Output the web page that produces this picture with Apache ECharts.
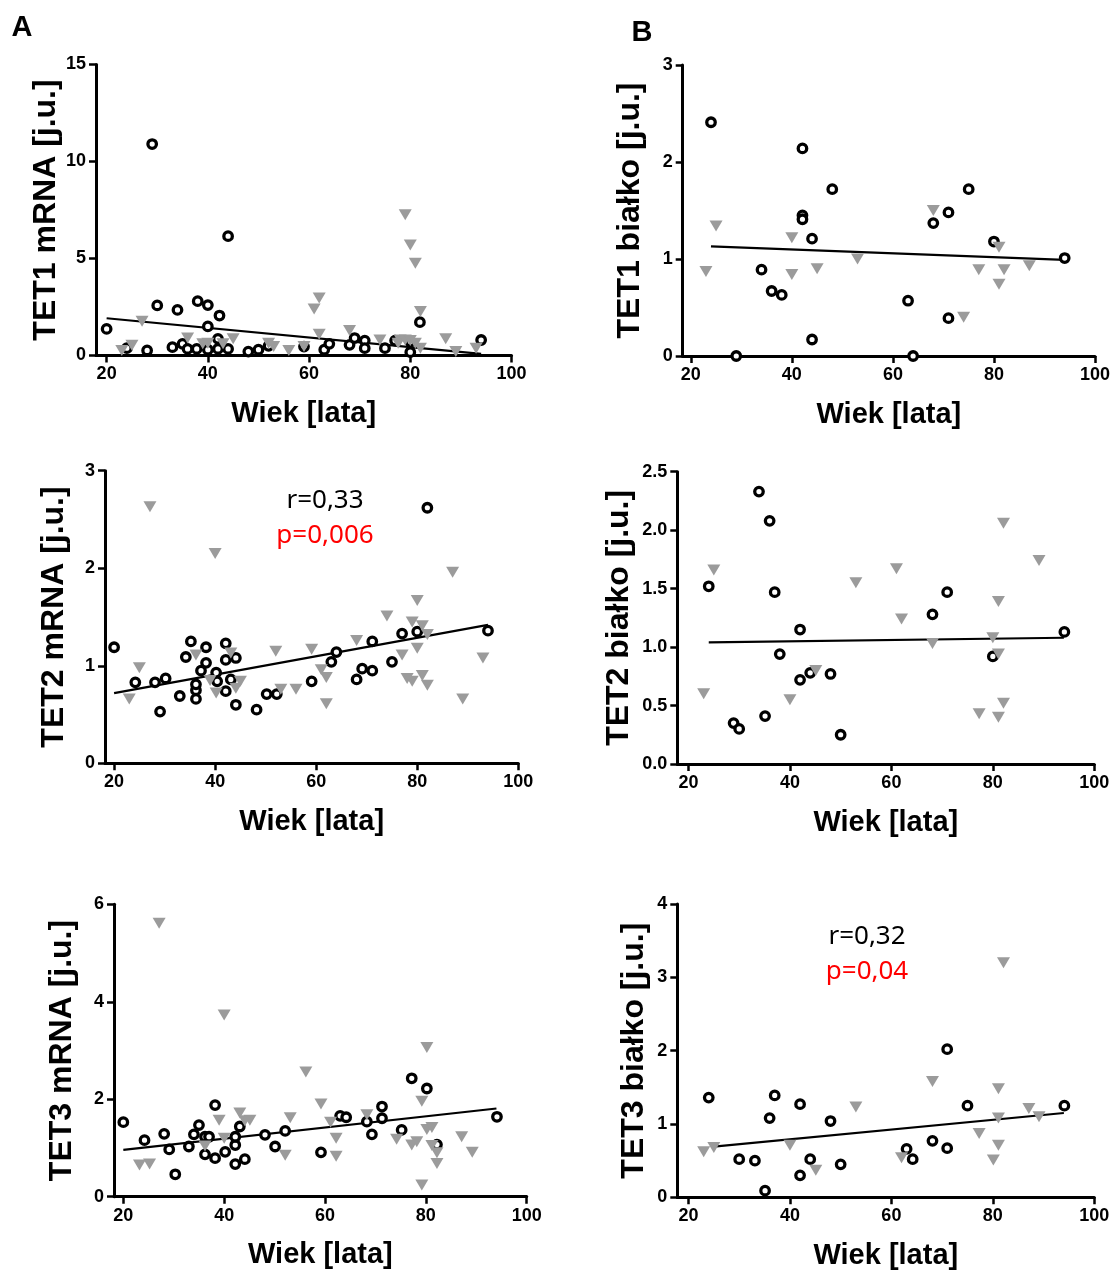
<!DOCTYPE html>
<html>
<head>
<meta charset="utf-8">
<script src="https://cdn.jsdelivr.net/npm/echarts@6/dist/echarts.min.js"></script>
<style>html,body{margin:0;padding:0;background:#fff}#c{width:1114px;height:1276px}</style>
</head>
<body>
<div id="c"></div>
<script>
// ---------- DATA (age [years], value [j.u.]) ----------
const xTicks = [20, 40, 60, 80, 100];
const xTitle = 'Wiek [lata]';

// TET1 mRNA
const tet1MrnaCircles = [[20,1.37],[29,10.9],[30,2.58],[34,2.35],[38,2.8],[40,2.6],[42.3,2.06],[40,1.5],[44,6.15],[81.9,1.72],[94,0.8],[28,0.26],[24,0.38],[33,0.43],[35,0.6],[36,0.34],[37.8,0.34],[40,0.3],[42,0.86],[42,0.34],[44,0.34],[48,0.2],[50,0.3],[52,0.5],[59,0.46],[63,0.3],[64,0.6],[68,0.55],[69,0.9],[71,0.77],[71,0.38],[75,0.38],[77,0.77],[80,0.17],[80,0.72]];
const tet1MrnaTriangles = [[79,7.25],[80,5.7],[81,4.76],[62,2.97],[61,2.4],[82,2.27],[27,1.77],[62,1.1],[68,1.29],[87,0.86],[36,0.9],[25,0.53],[23,0.26],[39,0.6],[40,0.63],[43,0.6],[45,0.86],[52,0.63],[53,0.46],[56,0.26],[59,0.46],[74,0.8],[77.6,0.63],[78,0.8],[79,0.8],[80,0.77],[81,0.63],[82,0.38],[89,0.2],[93,0.38]];
const tet1MrnaFit = [[20,1.92],[94,0.08]];

// TET1 protein
const tet1ProtCircles = [[24,2.41],[42.1,2.14],[48,1.72],[42.1,1.45],[42.1,1.41],[44,1.21],[34,0.89],[36,0.67],[38,0.63],[44,0.17],[29,0.0],[63,0.57],[64,0.0],[71,0.39],[68,1.37],[71,1.48],[75,1.72],[80,1.18],[94,1.01]];
const tet1ProtTriangles = [[25,1.34],[23,0.87],[40,1.22],[40,0.84],[45,0.9],[53,1.0],[68,1.5],[74,0.4],[77,0.89],[81,1.12],[82,0.89],[81,0.74],[87,0.93]];
const tet1ProtFit = [[24,1.13],[94,0.99]];

// TET2 mRNA
const tet2MrnaCircles = [[20,1.19],[24.2,0.83],[28.1,0.83],[30.2,0.87],[29.1,0.53],[33,0.69],[34.2,1.09],[35.2,1.25],[36.2,0.66],[36.2,0.75],[36.2,0.81],[37.2,0.95],[38.2,1.03],[38.2,1.19],[40.2,0.93],[40.4,0.84],[42.1,0.74],[42.1,1.23],[42.1,1.06],[44.1,1.08],[43.1,0.86],[44.1,0.6],[48.2,0.55],[50.2,0.71],[52.2,0.71],[59.1,0.84],[63,1.04],[64,1.14],[68,0.86],[69.1,0.97],[71.1,0.95],[71.1,1.25],[75,1.04],[77,1.33],[80,1.35],[82,2.62],[94,1.36]];
const tet2MrnaTriangles = [[27.1,2.63],[40,2.15],[87,1.96],[80,1.67],[74,1.51],[79,1.45],[81,1.41],[82,1.32],[80,1.18],[77,1.11],[93,1.08],[68,1.26],[59.1,1.17],[52,1.15],[61,0.96],[62,0.88],[62,0.61],[56,0.76],[53,0.76],[25,0.98],[23,0.66],[36.2,1.11],[43.1,1.13],[39,0.85],[40.2,0.72],[44.1,0.77],[45,0.84],[78,0.87],[79,0.84],[81,0.9],[82,0.8],[89,0.66]];
const tet2MrnaFit = [[20,0.72],[94,1.42]];

// TET2 protein
const tet2ProtCircles = [[33.9,2.33],[36,2.08],[24,1.52],[37,1.47],[42,1.15],[38,0.94],[42,0.72],[44,0.78],[48,0.77],[28.9,0.35],[30,0.30],[35.1,0.41],[50,0.25],[68.1,1.28],[71,1.47],[80,0.92],[94.1,1.13]];
const tet2ProtTriangles = [[25,1.66],[23,0.6],[40,0.55],[45.1,0.8],[53,1.55],[61,1.67],[62,1.24],[68.1,1.03],[77.3,0.43],[81.1,1.39],[80,1.08],[81.1,0.94],[82.1,2.06],[82.1,0.52],[81.1,0.4],[89.1,1.74]];
const tet2ProtFit = [[24,1.04],[94,1.08]];

// TET3 mRNA
const tet3MrnaCircles = [[20,1.53],[24.2,1.16],[28.1,1.29],[29.1,0.97],[30.3,0.46],[33,1.03],[34,1.28],[35,1.47],[36.2,1.23],[36.2,0.87],[37,1.23],[38.2,1.88],[38.2,0.79],[40.2,0.92],[42.2,1.06],[42.2,1.23],[42.2,0.67],[43.1,1.44],[44.1,0.77],[48.1,1.27],[50.1,1.03],[52.1,1.35],[59.2,0.91],[63,1.66],[64.2,1.63],[68.3,1.54],[69.3,1.28],[71.3,1.85],[71.3,1.61],[75.2,1.37],[77.2,2.43],[80.2,2.22],[82.2,1.07],[94.1,1.64]];
const tet3MrnaTriangles = [[27.1,5.61],[40,3.73],[56.2,2.56],[80.2,3.06],[79.2,1.96],[59.2,1.9],[53.1,1.62],[43.1,1.72],[45.1,1.57],[39,1.57],[61.1,1.53],[68.3,1.68],[62.2,1.2],[62.2,0.83],[52.1,0.85],[23.2,0.65],[25.2,0.67],[36.2,1.04],[40,1.2],[74.2,1.18],[77.2,1.06],[78.2,1.13],[80.2,1.38],[81.2,1.42],[81.2,1.05],[82.2,0.9],[82.2,0.68],[87.1,1.23],[89.2,0.91],[79.2,0.24],[44.1,1.56]];
const tet3MrnaFit = [[20,0.96],[94,1.81]];

// TET3 protein
const tet3ProtCircles = [[24,1.36],[30,0.52],[33.1,0.5],[35.1,0.09],[36,1.08],[37,1.39],[42,1.27],[42,0.3],[44,0.52],[48,1.04],[50,0.45],[63,0.66],[64.2,0.52],[68.1,0.77],[71,0.67],[71,2.02],[75,1.25],[94.1,1.25]];
const tet3ProtTriangles = [[23,0.62],[25,0.68],[40,0.71],[45.1,0.37],[53,1.23],[62,0.54],[68.1,1.58],[77.3,0.87],[81.1,1.48],[81.1,1.08],[81.1,0.71],[80.1,0.51],[82.1,3.2],[87.1,1.21],[89.1,1.1]];
const tet3ProtFit = [[25,0.69],[94,1.15]];

const yTitles = ['TET1 mRNA [j.u.]','TET1 białko [j.u.]','TET2 mRNA [j.u.]','TET2 białko [j.u.]','TET3 mRNA [j.u.]','TET3 białko [j.u.]'];
const yMax = [15, 3, 3, 2.5, 6, 4];
const yStep = [5, 1, 1, 0.5, 2, 1];
const yDecimals = [0, 0, 0, 1, 0, 0];
const xMin = [17.9, 18.4, 18.2, 17.8, 18.15, 17.8];

const stats = [
  {panel: 2, r: 'r=0,33', p: 'p=0,006'},
  {panel: 5, r: 'r=0,32', p: 'p=0,04'}
];

// ---------- LAYOUT ----------
const layout = [
  {left: 96,    top: 64.5,  right: 511.5,  bottom: 355.5, yGap: 34, sx: 325, sy: 501},
  {left: 682.7, top: 65,    right: 1095,   bottom: 356,   yGap: 37},
  {left: 105,   top: 470.7, right: 518.3,  bottom: 763.3, yGap: 35, sx: 325, sy: 501},
  {left: 677.3, top: 471.7, right: 1094.3, bottom: 764,   yGap: 42},
  {left: 114,   top: 904.3, right: 526.7,  bottom: 1196.7,yGap: 36},
  {left: 677.3, top: 904,   right: 1094.3, bottom: 1197.3,yGap: 27, sx: 867, sy: 937}
];
const panelsData = [
  [tet1MrnaCircles, tet1MrnaTriangles, tet1MrnaFit],
  [tet1ProtCircles, tet1ProtTriangles, tet1ProtFit],
  [tet2MrnaCircles, tet2MrnaTriangles, tet2MrnaFit],
  [tet2ProtCircles, tet2ProtTriangles, tet2ProtFit],
  [tet3MrnaCircles, tet3MrnaTriangles, tet3MrnaFit],
  [tet3ProtCircles, tet3ProtTriangles, tet3ProtFit]
];

const FONT = '"Liberation Sans", Arial, Helvetica, sans-serif';
const grids = [], xAxes = [], yAxes = [], series = [], graphics = [];

layout.forEach((L, i) => {
  grids.push({left: L.left, top: L.top, width: L.right - L.left, height: L.bottom - L.top, containLabel: false});
  xAxes.push({
    type: 'value', gridIndex: i, min: xMin[i], max: 100,
    name: xTitle, nameLocation: 'middle', nameGap: 44,
    nameTextStyle: {fontFamily: FONT, fontWeight: 'bold', fontSize: 29, color: '#000'},
    axisLine: {show: true, onZero: false, lineStyle: {color: '#000', width: 3}},
    axisTick: {show: true, length: 7, lineStyle: {color: '#000', width: 2.5}, customValues: xTicks},
    axisLabel: {fontFamily: FONT, fontWeight: 'bold', fontSize: 18, color: '#000', margin: 10, customValues: xTicks},
    splitLine: {show: false}
  });
  yAxes.push({
    type: 'value', gridIndex: i, min: 0, max: yMax[i], interval: yStep[i],
    name: yTitles[i], nameLocation: 'middle', nameGap: L.yGap,
    nameTextStyle: {fontFamily: FONT, fontWeight: 'bold', fontSize: 32, color: '#000'},
    axisLine: {show: true, lineStyle: {color: '#000', width: 3}},
    axisTick: {show: true, length: 7, lineStyle: {color: '#000', width: 2.5}},
    axisLabel: {fontFamily: FONT, fontWeight: 'bold', fontSize: 18, color: '#000', margin: 10,
      formatter: v => v.toFixed(yDecimals[i])},
    splitLine: {show: false}
  });
  const [circ, tri, fit] = panelsData[i];
  series.push({
    type: 'line', xAxisIndex: i, yAxisIndex: i, data: fit, showSymbol: false, symbol: 'none',
    lineStyle: {color: '#000', width: 2.2}, silent: true, z: 2
  });
  series.push({
    type: 'scatter', xAxisIndex: i, yAxisIndex: i, data: circ, symbol: 'circle', symbolSize: 8.5,
    itemStyle: {color: '#fff', borderColor: '#000', borderWidth: 3.3, opacity: 1}, z: 3
  });
  series.push({
    type: 'scatter', xAxisIndex: i, yAxisIndex: i, data: tri, symbol: 'triangle', symbolRotate: 180,
    symbolSize: [13, 11], itemStyle: {color: '#9b9b9b', opacity: 1}, z: 4
  });
});

// stats annotations
stats.forEach(s => {
  const L = layout[s.panel];
  graphics.push({type: 'text', x: L.sx, y: L.sy, style: {text: s.r, fill: '#000', font: '26px "Noto Sans", "Open Sans", sans-serif', textAlign: 'center', textVerticalAlign: 'middle'}});
  graphics.push({type: 'text', x: L.sx, y: L.sy + 35, style: {text: s.p, fill: '#ff0000', font: '26px "Noto Sans", "Open Sans", sans-serif', textAlign: 'center', textVerticalAlign: 'middle'}});
});
// panel letters
graphics.push({type: 'text', x: 22, y: 28, style: {text: 'A', fill: '#000', font: 'bold 29px ' + FONT, textAlign: 'center', textVerticalAlign: 'middle'}});
graphics.push({type: 'text', x: 642, y: 33, style: {text: 'B', fill: '#000', font: 'bold 29px ' + FONT, textAlign: 'center', textVerticalAlign: 'middle'}});

const chart = echarts.init(document.getElementById('c'), null, {renderer: 'canvas'});
chart.setOption({
  animation: false,
  backgroundColor: '#fff',
  grid: grids, xAxis: xAxes, yAxis: yAxes, series: series, graphic: graphics
});
</script>
</body>
</html>
